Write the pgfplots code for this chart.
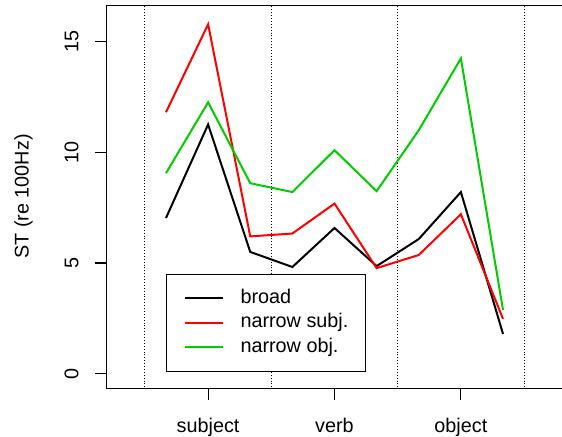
\documentclass[border=0pt]{standalone}
\usepackage{fontspec}
\setmainfont{Liberation Sans}
\usepackage{pgfplots}
\pgfplotsset{compat=1.18}
\definecolor{rgreen}{RGB}{0,205,0}
\begin{document}
\fontsize{9.9}{12}\selectfont
\begin{tikzpicture}
\path[use as bounding box] (-53.5pt,-24pt) rectangle (227.5pt,194pt);
\begin{axis}[
  at={(0,0)}, anchor=south west,
  scale only axis, width=227.5pt, height=191.5pt,
  xmin=-0.4, xmax=10.4, ymin=-0.64, ymax=16.64,
  xtick={2,5,8}, xticklabels={subject,verb,object},
  ytick={0,5,10,15}, yticklabels={0,5,10,15},
  xtick pos=bottom, ytick pos=left,
  tick align=outside,
  major tick length=6pt,
  axis line style={black, line width=0.5pt},
  tick style={black, line width=0.6pt},
  yticklabel style={rotate=90, anchor=south, inner xsep=0pt, inner ysep=8pt},
  xticklabel style={anchor=north, inner xsep=0pt, inner ysep=9pt},
  ylabel={ST (re 100Hz)},
  ylabel style={at={([xshift=-37pt]axis description cs:0,0.5)}, anchor=south, rotate=0, inner sep=0pt},
  legend style={at={(0.1297,0.2977)}, anchor=north west, draw=black, line width=0.5pt,
     inner xsep=8.5pt, inner ysep=7.5pt, row sep=3.25pt, column sep=8.5pt,
     nodes={inner sep=0pt, text height=7pt, text depth=2pt}},
  legend cell align=left,
  legend image code/.code={\draw[#1] (0pt,0pt) -- (19pt,0pt);},
]
\addplot[black, densely dotted, line width=0.45pt, forget plot] coordinates {(0.5,-1) (0.5,17)};
\addplot[black, densely dotted, line width=0.45pt, forget plot] coordinates {(3.5,-1) (3.5,17)};
\addplot[black, densely dotted, line width=0.45pt, forget plot] coordinates {(6.5,-1) (6.5,17)};
\addplot[black, densely dotted, line width=0.45pt, forget plot] coordinates {(9.5,-1) (9.5,17)};
\addplot[black, line width=1pt] coordinates {(1,7.03) (2,11.25) (3,5.5) (4,4.82) (5,6.58) (6,4.86) (7,6.08) (8,8.2) (9,1.8)};
\addlegendentry{broad}
\addplot[red, line width=1pt] coordinates {(1,11.8) (2,15.77) (3,6.2) (4,6.33) (5,7.68) (6,4.77) (7,5.36) (8,7.2) (9,2.48)};
\addlegendentry{narrow subj.}
\addplot[rgreen, line width=1pt] coordinates {(1,9.05) (2,12.25) (3,8.6) (4,8.2) (5,10.09) (6,8.24) (7,10.99) (8,14.23) (9,2.88)};
\addlegendentry{narrow obj.}
\end{axis}
\end{tikzpicture}
\end{document}
